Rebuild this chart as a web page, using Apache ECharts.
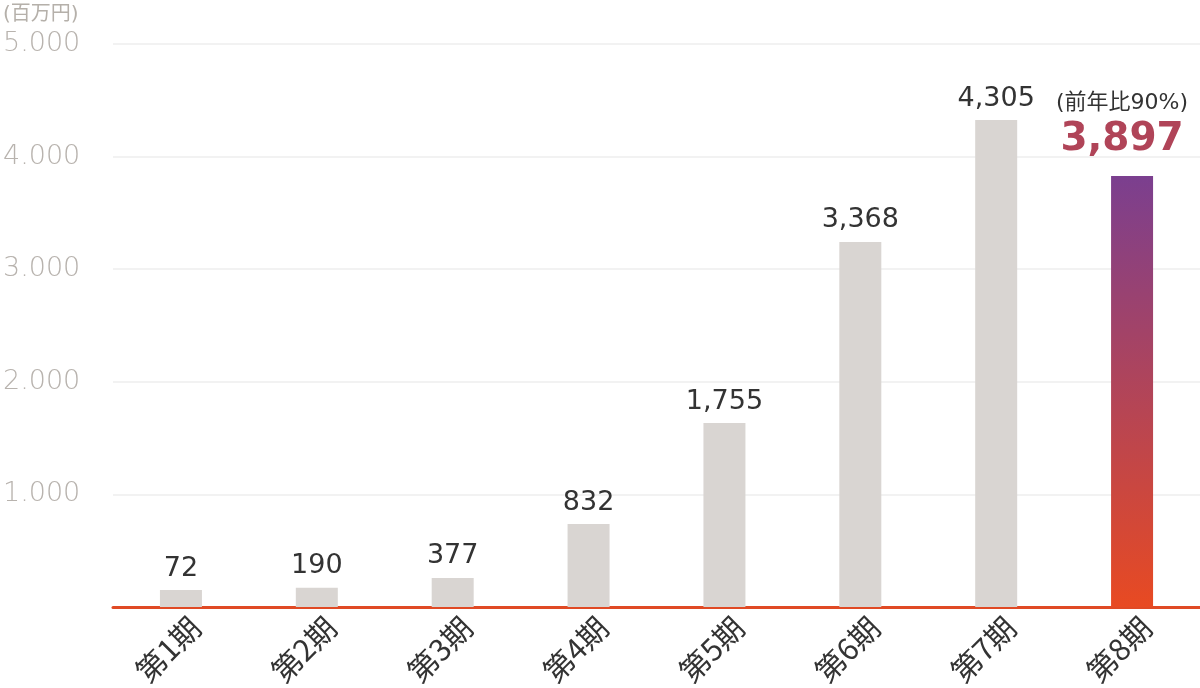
<!DOCTYPE html>
<html><head><meta charset="utf-8">
<script src="https://cdn.jsdelivr.net/npm/echarts@6/dist/echarts.min.js"></script>
<style>html,body{margin:0;padding:0;background:#fff}#c{width:1200px;height:688px}</style>
</head><body><div id="c"></div>
<script>
const categories = ['第1期','第2期','第3期','第4期','第5期','第6期','第7期','第8期'];
// bar heights as drawn in the picture (百万円)
const barValues = [150, 170, 258, 737, 1634, 3242, 4325, 3828];
// value labels printed above bars
const labelTexts = ['72','190','377','832','1,755','3,368','4,305','3,897'];
const yoyText = '(前年比90%)';
const yTicks = [1000, 2000, 3000, 4000, 5000];
const unitText = '(百万円)';

const FONT = '"DejaVu Sans", "Noto Sans CJK JP", sans-serif';
const CJK = '"Noto Sans CJK JP", sans-serif';
const chart = echarts.init(document.getElementById('c'));
const data = barValues.map((v, i) => {
  if (i === barValues.length - 1) {
    return {
      value: v,
      itemStyle: { color: new echarts.graphic.LinearGradient(0,0,0,1,[{offset:0,color:'#7b3f8f'},{offset:1,color:'#e84a22'}]) },
      label: {
        show: true, position: 'top', distance: 14, offset: [-10, 0],
        formatter: () => '{a|' + yoyText + '}\n{b|' + labelTexts[i] + '}',
        rich: {
          a: { fontSize: 22, color: '#333', fontFamily: FONT, lineHeight: 30, align: 'center' },
          b: { fontSize: 39, fontWeight: 'bold', color: '#b04458', fontFamily: FONT, lineHeight: 44, align: 'center' }
        }
      }
    };
  }
  return v;
});
chart.setOption({
  animation: false,
  title: { text: unitText, left: -2, top: 0, textStyle: { fontSize: 20, color: '#b5b0aa', fontWeight: 'normal', fontFamily: FONT } },
  grid: { left: 113, right: 0, top: 44, bottom: 81, containLabel: false, outerBoundsMode: 'none' },
  xAxis: {
    type: 'category', data: categories,
    axisLine: { lineStyle: { color: '#e04a25', width: 3 } },
    axisTick: { show: false },
    axisLabel: { rotate: 45, fontSize: 30, lineHeight: 40, verticalAlign: 'top', color: '#333', fontFamily: CJK, margin: 1 }
  },
  yAxis: {
    type: 'value', min: 0, max: 5000, interval: 1000,
    axisLine: { show: false }, axisTick: { show: false },
    splitLine: { lineStyle: { color: '#f2f2f2', width: 2 } },
    axisLabel: {
      align: 'left', margin: 110, fontSize: 27, color: '#b8b3ae', fontFamily: FONT, fontWeight: 200,
      formatter: v => yTicks.includes(v) ? String(v / 1000) + '.000' : ''
    }
  },
  series: [{
    type: 'bar', data: data, barWidth: 42,
    itemStyle: { color: '#d9d5d2' },
    label: {
      show: true, position: 'top', distance: 8, fontSize: 27, color: '#333', fontFamily: FONT,
      formatter: p => labelTexts[p.dataIndex]
    }
  }]
});
</script></body></html>
